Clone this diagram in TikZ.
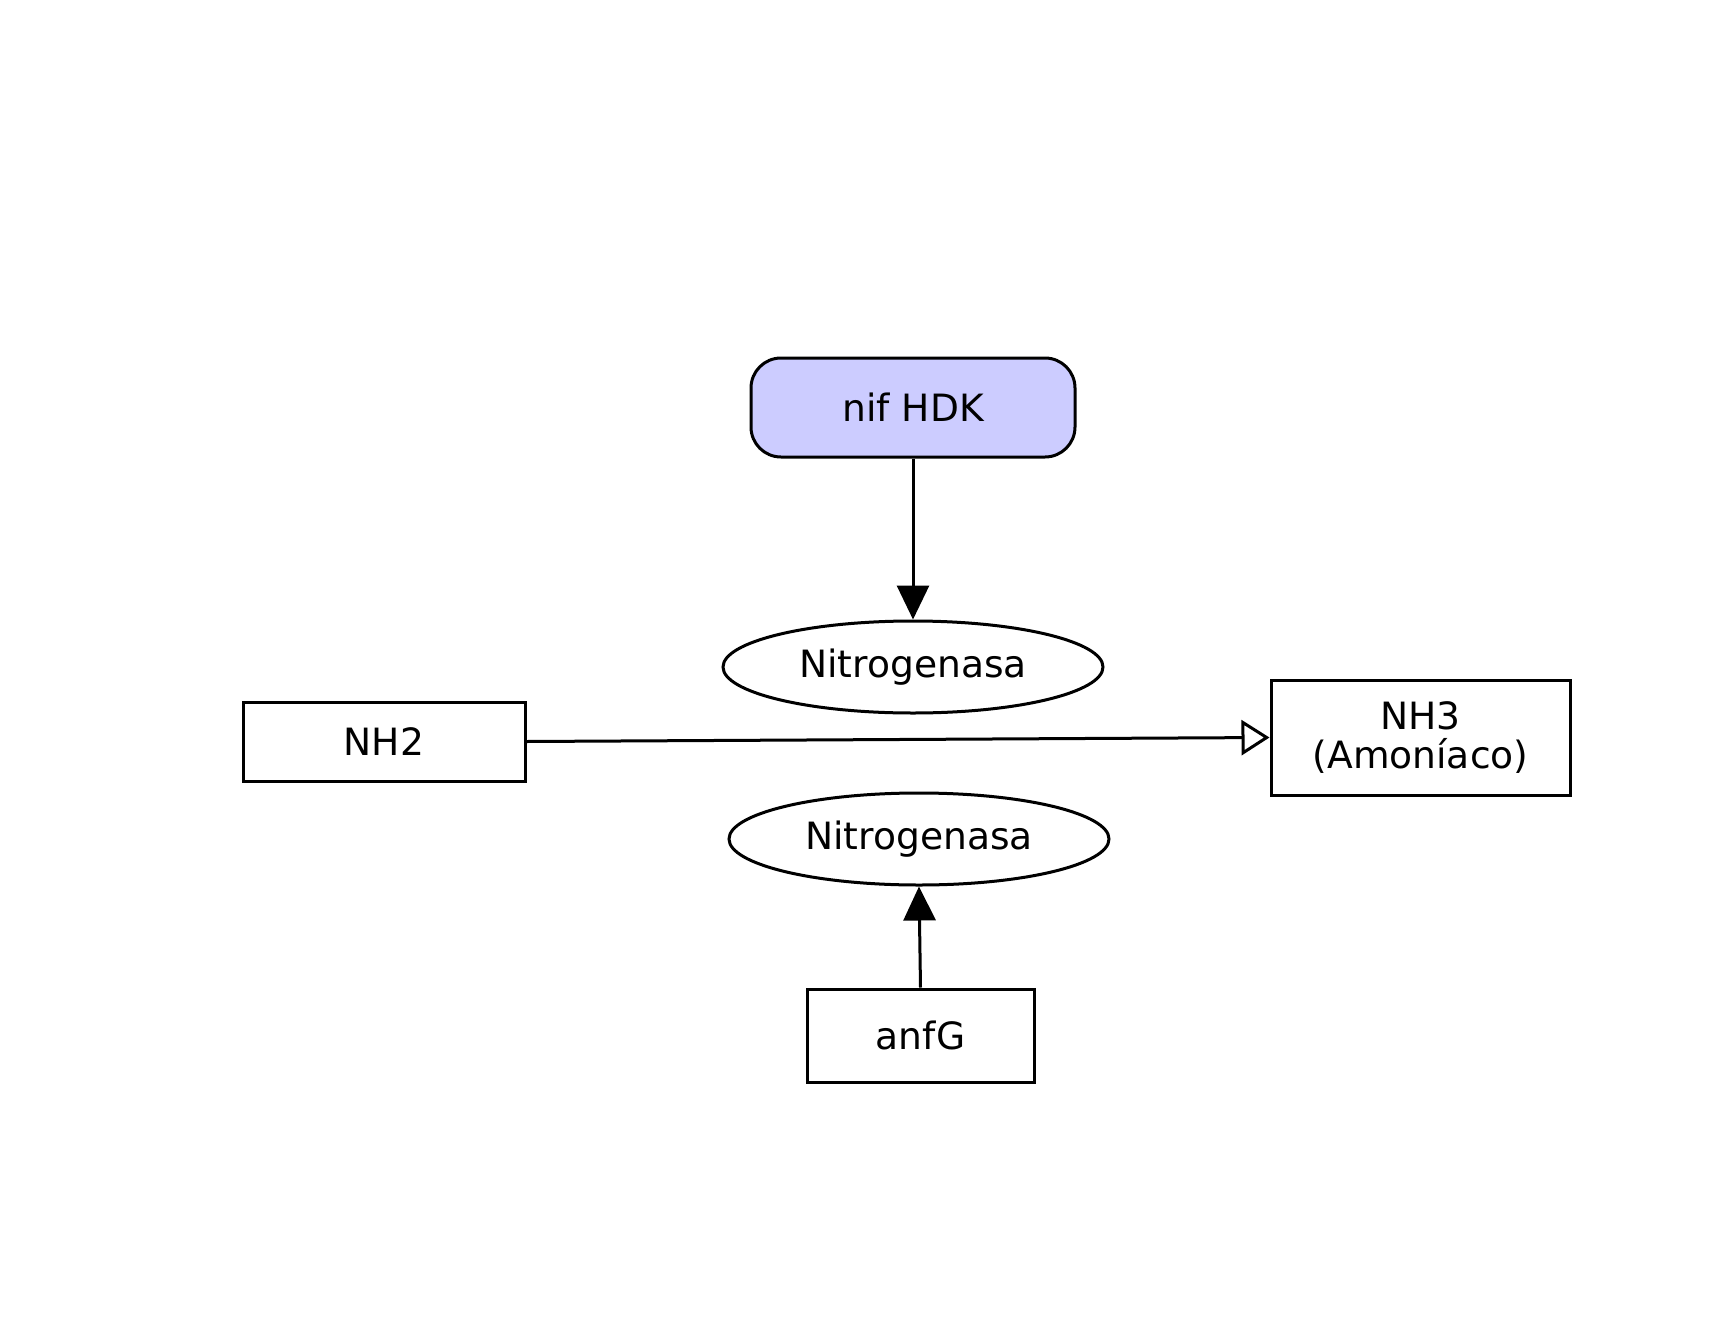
\documentclass[tikz,border=0pt]{standalone}
\usepackage{fontspec}
\setmainfont{DejaVu Sans}
\usetikzlibrary{shapes.geometric,arrows.meta}
\begin{document}
\begin{tikzpicture}[x=1pt,y=-1pt,
  every node/.style={font=\fontsize{37.6}{39.5}\selectfont, inner sep=0pt, line width=3pt},
  rectbox/.style={draw, rectangle},
  ellbox/.style={draw, ellipse, minimum width=380pt, minimum height=92pt},
  conn/.style={line width=3pt},
  filledtip/.style={-{Triangle[length=34pt,width=32pt]}},
  opentip/.style={-{Triangle[open,length=28pt,width=35pt,line width=3pt]}}
]
\useasboundingbox[fill=white] (0,0) rectangle (1719,1341);
\node[rectbox, rounded corners=30pt, fill={rgb,255:red,204;green,204;blue,255},
  minimum width=324pt, minimum height=99pt] (nif) at (913,407.5) {nif HDK};
\node[ellbox] (n1) at (913,667) {Nitrogenasa};
\node[rectbox, minimum width=282pt, minimum height=79pt] (nh2) at (384,741.5) {NH2};
\node[rectbox, minimum width=299pt, minimum height=115pt, align=center] (nh3) at (1420.5,737.5) {NH3\\(Amoníaco)};
\node[ellbox] (n2) at (919,839) {Nitrogenasa};
\node[rectbox, minimum width=227pt, minimum height=93pt] (anfg) at (920.5,1035.5) {anfG};
\draw[conn, filledtip] (nif.south) -- (n1.north);
\draw[conn, opentip] (nh2.east) -- (nh3.west);
\draw[conn, filledtip] (anfg.north) -- (n2.south);
\end{tikzpicture}
\end{document}
